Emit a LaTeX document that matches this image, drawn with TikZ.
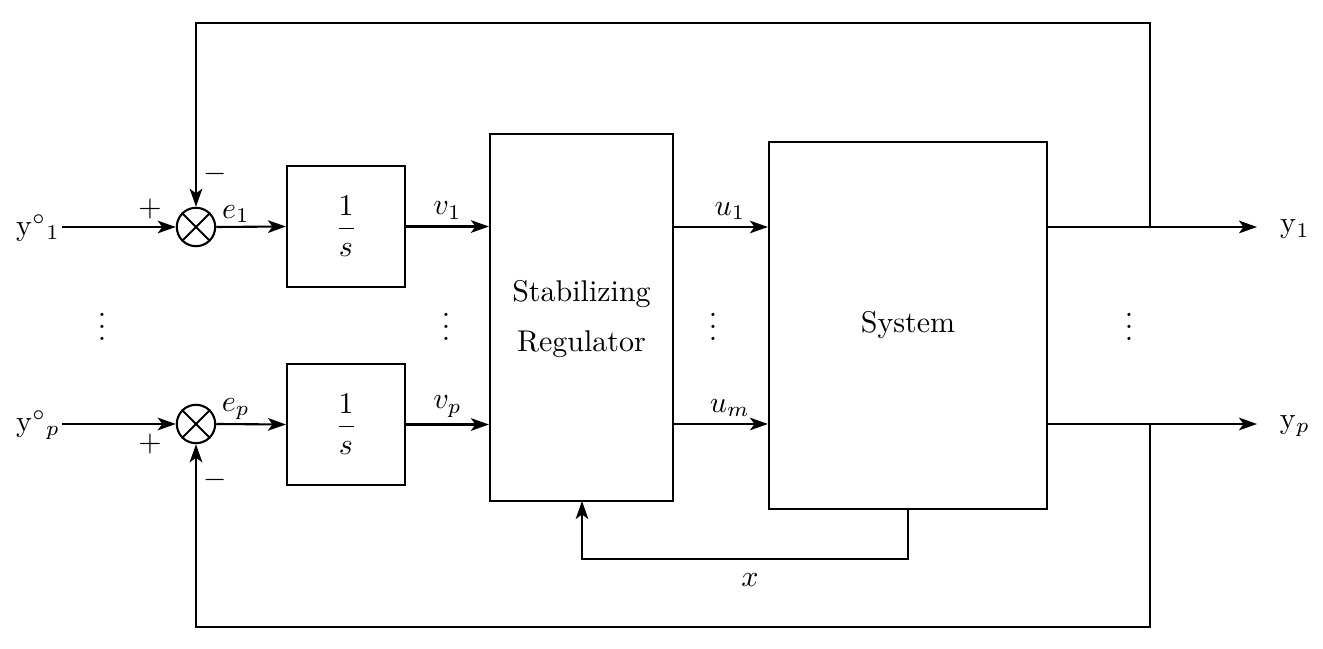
\documentclass[tikz,border=0pt]{standalone}
\usetikzlibrary{arrows.meta}
\begin{document}
\begin{tikzpicture}[x=0.3333pt,y=-0.3333pt,
  line width=0.7pt,
  arr/.style={-{Stealth[length=6pt,width=4.2pt,inset=1.5pt]}},
  blk/.style={draw,line width=0.7pt,inner sep=0pt},
  sumn/.style={draw,circle,minimum size=12.8pt,inner sep=0pt,line width=0.7pt}]
\useasboundingbox (0,0) rectangle (1323,649);
% blocks
\node[blk,minimum width=118*0.3333pt,minimum height=121*0.3333pt] (i1) at (346,226.5) {$\displaystyle\frac{1}{s}$};
\node[blk,minimum width=118*0.3333pt,minimum height=121*0.3333pt] (i2) at (346,424.5) {$\displaystyle\frac{1}{s}$};
\node[blk,minimum width=183*0.3333pt,minimum height=367*0.3333pt] (reg) at (581.5,317.5) {};
\node[align=center] (regt) at (581.5,319) {Stabilizing\\[4.5pt]Regulator};
\node[blk,minimum width=278*0.3333pt,minimum height=367*0.3333pt] (sys) at (908,325.5) {System};
% sums
\node[sumn] (s1) at (196,227) {};
\node[sumn] (s2) at (196,424) {};
\foreach \s in {s1,s2}{
  \draw[line width=0.7pt] (\s.north west) -- (\s.south east) (\s.north east) -- (\s.south west);
}
% inputs
\node (y1in) at (38,228) {$\mathrm{y}^{\circ}{}_1$};
\node (ypin) at (38,425) {$\mathrm{y}^{\circ}{}_p$};
\coordinate (in1) at (62,227);
\coordinate (in2) at (62,424);
\draw[arr] (in1) -- (s1.west);
\draw[arr] (in2) -- (s2.west);
% forward
\draw[arr] (s1.east) -- (i1.west) node[pos=0.28,above,inner sep=1pt] (e1) {$e_1$};
\draw[arr] (s2.east) -- (i2.west) node[pos=0.28,above,inner sep=1pt] (ep) {$e_p$};
\draw[arr] (i1.east) -- (reg.west |- i1.east) node[midway,above,inner sep=2pt] (v1) {$v_1$};
\draw[arr] (i2.east) -- (reg.west |- i2.east) node[midway,above,inner sep=2pt] (vp) {$v_p$};
\coordinate (r1) at (673,227);
\coordinate (r2) at (673,424);
\draw[arr] (r1) -- (sys.west |- r1) node[pos=0.6,above,inner sep=2pt] (u1) {$u_1$};
\draw[arr] (r2) -- (sys.west |- r2) node[pos=0.6,above,inner sep=2pt] (um) {$u_m$};
% outputs
\coordinate (o1) at (1047,227);
\coordinate (o2) at (1047,424);
\coordinate (t1) at (1257,227);
\coordinate (t2) at (1257,424);
\draw[arr] (o1) -- (t1);
\draw[arr] (o2) -- (t2);
\node (y1out) at (1295,229) {$\mathrm{y}{}_1$};
\node (ypout) at (1295,426) {$\mathrm{y}{}_p$};
% feedback
\coordinate (b1) at (1150,227);
\coordinate (b2) at (1150,424);
\draw[arr] (b1) -- (1150,23) -- (196,23) -- (s1.north);
\draw[arr] (b2) -- (1150,627) -- (196,627) -- (s2.south);
% state feedback
\coordinate (xs) at (908,509);
\draw[arr] (xs) -- (908,559) -- (582,559) -- (582,501);
\node (xl) at (750,580) {$x$};
% signs
\node (p1) at (150,209) {$+$};
\node (m1) at (215,174) {$-$};
\node (p2) at (150,444) {$+$};
\node (m2) at (215,480) {$-$};
% dots
\node (d1) at (102,318) {$\vdots$};
\node (d2) at (446,318) {$\vdots$};
\node (d3) at (713,318) {$\vdots$};
\node (d4) at (1129,318) {$\vdots$};
\end{tikzpicture}
\end{document}
